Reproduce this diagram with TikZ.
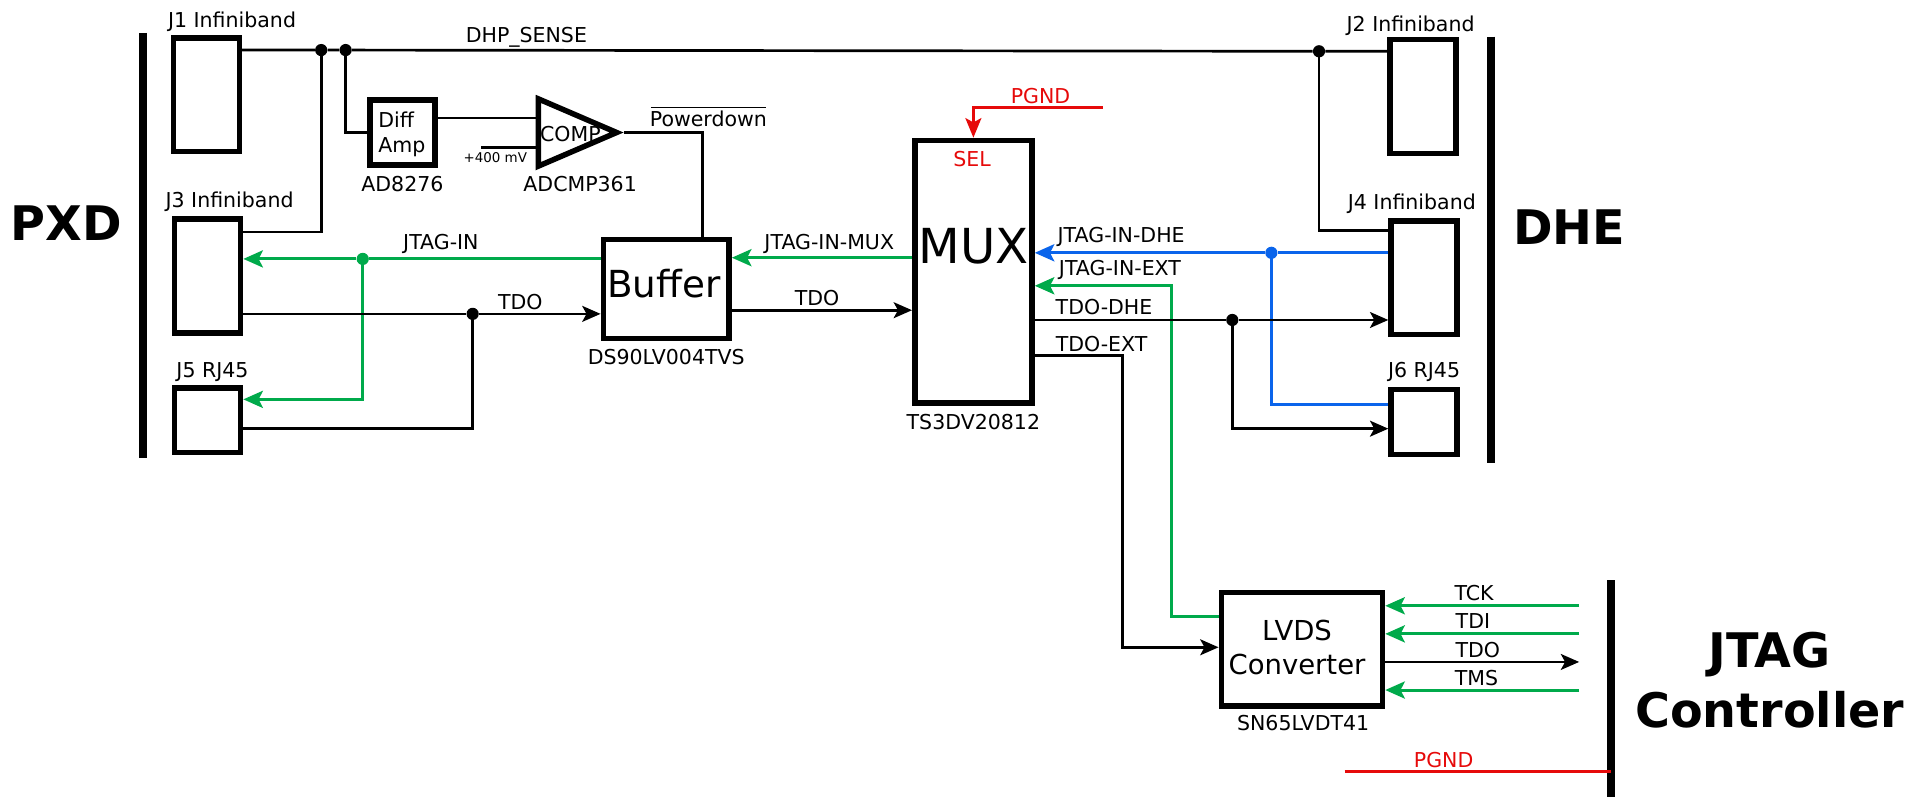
\documentclass[tikz,border=0pt]{standalone}
\usepackage{fontspec}
\setmainfont{DejaVu Sans}
\usepackage{xcolor}
\usetikzlibrary{shapes.geometric,arrows.meta,positioning}
\definecolor{siggreen}{RGB}{0,170,75}
\definecolor{sigblue}{RGB}{10,100,235}
\definecolor{sigred}{RGB}{230,10,10}
\newcommand{\lblsize}{\fontsize{16.8}{20}\selectfont}

\begin{document}
\begin{tikzpicture}[
    x=1pt, y=-1pt,
    block/.style={rectangle, draw=black, line width=4.5pt, fill=white},
    conn/.style={block, minimum width=54pt, minimum height=93pt},
    connsmall/.style={block, minimum width=54pt, minimum height=53pt},
    wire/.style={line width=2.2pt, draw=black, line join=miter},
    arrow/.style={wire, -{Stealth[length=15pt,width=13pt,inset=3.5pt]}},
    gwire/.style={wire, draw=siggreen, line width=2.5pt},
    garrow/.style={gwire, -{Stealth[length=16pt,width=14pt,inset=3.5pt]}},
    bwire/.style={wire, draw=sigblue, line width=2.5pt},
    barrow/.style={bwire, -{Stealth[length=16pt,width=14pt,inset=3.5pt]}},
    rwire/.style={wire, draw=sigred, line width=2.5pt},
    jdot/.style={circle, fill=black, inner sep=0pt, minimum size=10pt},
    bar/.style={line width=6.5pt, draw=black},
    lbl/.style={font=\lblsize, inner sep=0pt, text height=15pt, text depth=2pt},
    title/.style={font=\fontsize{39}{49}\selectfont\bfseries, inner sep=0pt, align=center}
]
\useasboundingbox (0,0) rectangle (1568,652);

% edge bars
\draw[bar] (117,27) -- (117,375);
\draw[bar] (1221,30) -- (1221,379);
\draw[bar] (1319,475) -- (1319,653.4);

% connectors on the PXD side
\node[conn] (j1) at (169,77.5) {};
\node[conn, below=51pt of j1, xshift=1pt] (j3) {};
\node[connsmall, below=40.5pt of j3] (j5) {};

% connectors on the DHE side
\node[conn] (j2) at (1165,79) {};
\node[conn, below=51pt of j2, xshift=1pt] (j4) {};
\node[connsmall, below=40.5pt of j4] (j6) {};

% active parts
\node[block, minimum width=53pt, minimum height=53pt] (diff) at (329.5,108.5) {};
\node[isosceles triangle, isosceles triangle stretches, draw=black, line width=4.5pt, fill=white,
    minimum width=55pt, minimum height=64pt, inner sep=0pt] (comp) at (459,108.5) {};
\node[block, minimum width=103pt, minimum height=81pt] (buffer) at (545.5,236.5) {};
\node[block, minimum width=96pt, minimum height=215pt] (mux) at (797,222.5) {};
\node[block, minimum width=132pt, minimum height=93pt] (lvds) at (1066,531.5) {};

% junctions
\node[jdot] (dhpa) at (263,41) {};
\node[jdot] (dhpb) at (283,41) {};
\node[jdot] (dhpc) at (1080,42) {};
\node[jdot] (tdoa) at (387,257) {};
\node[jdot] (tdob) at (1009,262) {};
\node[jdot, fill=siggreen] (jtaga) at (297,212) {};
\node[jdot, fill=sigblue] (jtagb) at (1041,207) {};

% free ends
\coordinate (vref) at (394,121);
\coordinate (pdturn) at (575,108.5);
\coordinate (pgndtop) at (903,88);
\coordinate (pgndlow) at (1101,632);
\coordinate (pgndbar) at (1319,632);
\coordinate (tckend) at (1293,496);
\coordinate (tdiend) at (1293,519);
\coordinate (tdoend) at (1293,542);
\coordinate (tmsend) at (1293,565);

% block texts
\node[font=\lblsize, inner sep=0pt, align=left] (difftxt) at (329,110) {Diff\\[1pt]Amp};
\node[lbl] (comptxt) at (467,109) {COMP};
\node[font=\fontsize{30.5}{36}\selectfont, inner sep=0pt] (buffertxt) at (543.5,232) {Buffer};
\node[font=\fontsize{39.5}{46}\selectfont, inner sep=0pt] (muxtxt) at (797,202) {MUX};
\node[font=\fontsize{22.5}{28}\selectfont, inner sep=0pt, align=center] (lvdstxt) at (1062,530) {LVDS\\Converter};
\node[lbl, text=sigred] (seltxt) at (796,130) {SEL};

% connector and part names
\node[lbl] (j1txt) at (190,16) {J1 Infiniband};
\node[lbl] (j3txt) at (188,163) {J3 Infiniband};
\node[lbl] (j5txt) at (174,303) {J5 RJ45};
\node[lbl] (j2txt) at (1155,19) {J2 Infiniband};
\node[lbl] (j4txt) at (1156,165) {J4 Infiniband};
\node[lbl] (j6txt) at (1166,303) {J6 RJ45};
\node[lbl, below=4pt of diff] (difflbl) {AD8276};
\node[lbl] (complbl) at (475,150) {ADCMP361};
\node[lbl, below=4pt of buffer] (bufferlbl) {DS90LV004TVS};
\node[lbl, below=4pt of mux] (muxlbl) {TS3DV20812};
\node[lbl] (lvdslbl) at (1067,592) {SN65LVDT41};
\node[font=\fontsize{11}{13}\selectfont, inner sep=0pt] (vreflbl) at (405.5,129) {+400 mV};

% signal names
\node[lbl] (dhplbl) at (431,28) {DHP\_SENSE};
\node[lbl] (pdlbl) at (580,97) {Powerdown};
\node[lbl] (jtaginlbl) at (361,198) {JTAG-IN};
\node[lbl] (tdolbla) at (426,247) {TDO};
\node[lbl] (jtagmuxlbl) at (679,198) {JTAG-IN-MUX};
\node[lbl] (tdolblb) at (669,244) {TDO};
\node[lbl] (jtagdhelbl) at (918,192) {JTAG-IN-DHE};
\node[lbl] (jtagextlbl) at (917,219) {JTAG-IN-EXT};
\node[lbl] (tdodhelbl) at (904,251) {TDO-DHE};
\node[lbl] (tdoextlbl) at (902,281) {TDO-EXT};
\node[lbl, text=sigred] (pgndlbla) at (852,78) {PGND};
\node[lbl, text=sigred] (pgndlblb) at (1182,622) {PGND};
\node[lbl] (tcklbl) at (1207,485) {TCK};
\node[lbl] (tdilbl) at (1206,508) {TDI};
\node[lbl] (tdolblc) at (1210,532) {TDO};
\node[lbl] (tmslbl) at (1209,555) {TMS};

% titles
\node[title] (pxd) at (54,183) {PXD};
\node[title] (dhe) at (1285,186) {DHE};
\node[title] (jtagc) at (1449,557) {JTAG\\Controller};

% sense lines
\draw[wire] (j1.east |- dhpa) -- (dhpa) -- (dhpb) -- (dhpc) -- (j2.west |- dhpc);
\draw[wire] (dhpa.center) -- (dhpa.center |- 0,190) -- (j3.east |- 0,190);
\draw[wire] (dhpb.center) -- (dhpb.center |- diff.west) -- (diff.west);
\draw[wire] (dhpc.center) -- (dhpc.center |- 0,189) -- (j4.west |- 0,189);
\draw[wire] ([yshift=12pt]diff.east) -- ([yshift=12pt]comp.lower side);
\draw[wire] (vref) -- (comp.lower side |- vref);
\draw[wire] (comp.apex) -- (pdturn) -- (pdturn |- buffer.north);
\draw[line width=1pt] ([xshift=1pt]pdlbl.north west) -- ([xshift=-1pt]pdlbl.north east);

% JTAG in
\draw[garrow] (buffer.west |- jtaga) -- (jtaga) -- (j3.east |- jtaga);
\draw[garrow] (jtaga.center) -- (jtaga.center |- 0,327) -- (j5.east |- 0,327);
\draw[garrow] (mux.west |- 0,211) -- (buffer.east |- 0,211);
\draw[barrow] (j4.west |- jtagb) -- (jtagb) -- (mux.east |- jtagb);
\draw[bwire] (jtagb.center) -- (jtagb.center |- 0,331) -- (j6.west |- 0,331);
\draw[garrow] (lvds.west |- 0,505) -- (959,505) -- (959,234) -- (mux.east |- 0,234);

% TDO
\draw[arrow] (j3.east |- tdoa) -- (tdoa) -- (buffer.west |- tdoa);
\draw[wire] (tdoa.center) -- (tdoa.center |- 0,351) -- (j5.east |- 0,351);
\draw[arrow] (buffer.east |- 0,254) -- (mux.west |- 0,254);
\draw[arrow] (mux.east |- tdob) -- (tdob) -- (j4.west |- tdob);
\draw[arrow] (tdob.center) -- (tdob.center |- 0,351) -- (j6.west |- 0,351);
\draw[arrow] (mux.east |- 0,291) -- (919,291) -- (919,530) -- (lvds.west |- 0,530);

% PGND
\draw[rwire, -{Stealth[length=16pt,width=13pt,inset=3.5pt]}] (pgndtop) -- (mux.north |- pgndtop) -- (mux.north);
\draw[rwire] (pgndlow) -- (pgndbar);

% controller side
\draw[garrow] (tckend) -- (lvds.east |- tckend);
\draw[garrow] (tdiend) -- (lvds.east |- tdiend);
\draw[arrow] (lvds.east |- tdoend) -- (tdoend);
\draw[garrow] (tmsend) -- (lvds.east |- tmsend);

\end{tikzpicture}
\end{document}
